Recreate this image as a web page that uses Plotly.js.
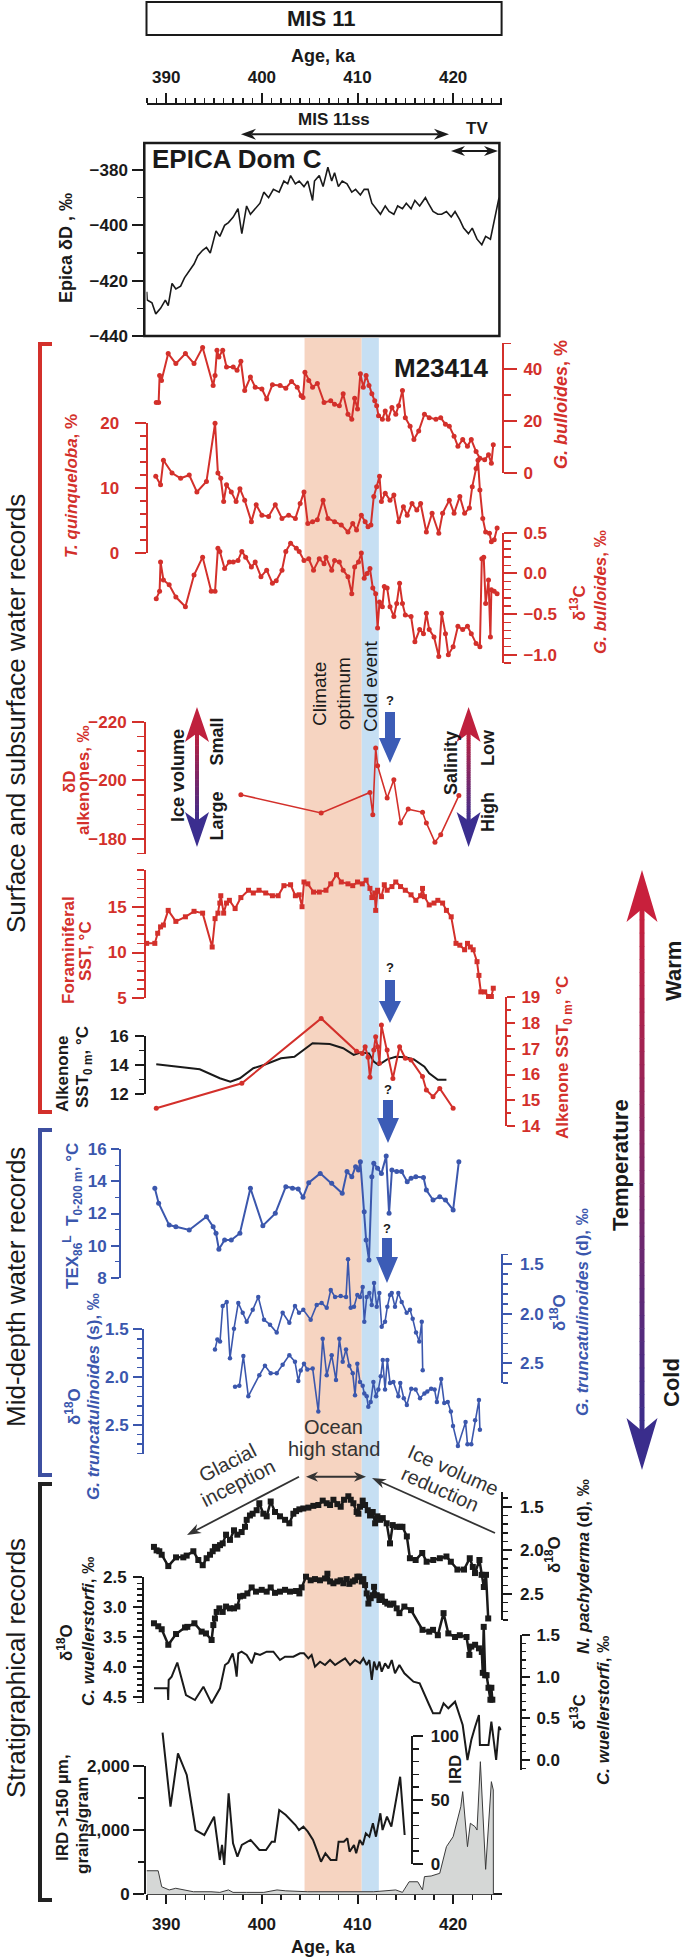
<!DOCTYPE html>
<html><head><meta charset="utf-8">
<script src="https://cdn.plot.ly/plotly-3.0.1.min.js"></script>
<style>html,body{margin:0;padding:0;background:#fff}#chart{width:685px;height:1959px}</style>
</head><body><div id="chart"></div>
<script>
// ---------------- DATA (age in ka) ----------------
const xTickVals = [390, 400, 410, 420];

const epicaAge = [387.95,388.0,388.5,388.9,389.4,389.9,390.2,390.6,391.0,391.5,391.9,392.5,392.9,393.3,393.8,394.2,394.6,395.2,395.6,396.1,396.5,397.0,397.5,397.9,398.4,398.8,399.3,399.8,400.2,400.7,401.2,401.8,402.3,402.7,403.0,403.5,403.9,404.4,404.8,405.3,405.5,406.0,406.4,406.9,407.3,407.6,408.0,408.4,408.9,409.4,409.8,410.3,410.7,411.1,411.5,412.0,412.4,412.9,413.3,413.8,414.2,414.7,415.1,415.6,416.0,416.5,417.1,417.4,417.9,418.4,418.8,419.3,419.8,420.2,420.7,421.1,421.6,422.0,422.5,423.0,423.4,423.9,424.4,424.8];
const epicaDD = [-424,-427,-428,-432,-430,-427,-429,-421,-423,-422,-419,-416,-414,-411,-409,-408,-410,-402,-404,-400,-399,-397,-394,-403,-393,-396,-394,-392,-388,-390,-387,-388,-384,-385,-382,-385,-384,-386,-384,-391,-384,-382,-386,-379,-384,-381,-386,-384,-385,-388,-387,-389,-387,-387,-392,-394,-396,-393,-395,-396,-393,-394,-392,-394,-391,-393,-390,-392,-395,-396,-396,-395,-397,-395,-398,-401,-403,-401,-405,-407,-404,-405,-397,-390];

const bullAge = [388.95,389.2,389.3,389.5,390.2,391.0,392.0,392.9,393.8,394.9,395.1,395.3,395.5,395.9,396.3,397.0,397.4,397.8,398.2,398.8,399.3,400.0,400.5,401.1,401.9,402.5,403.1,403.7,404.1,404.3,404.5,404.9,405.3,405.8,406.5,407.2,407.6,408.1,408.5,409.0,409.4,409.7,410.0,410.3,410.6,410.9,411.2,411.5,411.8,412.0,412.2,412.6,412.9,413.2,413.6,414.0,414.3,414.7,415.0,415.5,415.9,416.4,417.0,417.5,418.2,418.7,419.2,419.6,420.1,420.5,421.0,421.5,421.9,422.4,422.8,423.3,423.7,424.0,424.2];
const bullPct = [27.2,27.2,37.6,35.7,46.1,42.2,46.1,42.2,48.4,33.7,37.6,47.4,44.8,47.4,40.9,40.9,39.6,43.1,31.8,37.0,33.1,32.4,28.5,34.0,33.7,32.7,35.3,33.1,29.8,29.1,38.9,35.7,33.1,34.5,27.2,27.8,26.5,25.9,30.5,22.6,20.7,28.8,24.6,38.3,33.1,37.6,33.7,30.5,27.8,25.9,22.0,20.7,23.9,20.7,25.2,22.6,25.9,31.8,21.3,18.0,12.8,16.1,22.6,21.3,20.7,21.3,18.7,18.0,14.1,10.2,12.8,10.2,12.8,8.2,5.6,5.0,6.9,3.7,10.8];

const quinqAge = [388.9,389.4,389.7,390.6,391.5,392.4,393.2,394.2,395.1,395.4,395.7,396.0,396.3,396.8,397.3,397.7,398.2,398.9,399.4,400.0,400.7,401.4,402.1,402.8,403.5,404.0,404.4,404.8,405.3,405.8,406.4,406.9,407.6,408.3,409.0,409.5,409.9,410.4,410.8,411.1,411.4,411.7,412.0,412.3,412.5,412.9,413.4,413.8,414.3,414.8,415.2,415.7,416.2,416.6,417.2,417.8,418.5,418.9,419.6,420.1,420.7,421.2,421.7,422.0,422.4,422.6,422.8,423.1,423.4,423.8,424.0,424.3,424.6];
const quinqPct = [11.8,10.5,14.3,12.3,11.5,12.0,9.4,11.0,20.0,12.3,11.5,7.9,10.5,9.4,7.9,9.9,8.1,4.8,7.4,5.8,5.6,7.4,5.3,5.8,5.3,7.6,9.4,4.5,4.8,5.1,8.1,5.3,4.8,4.3,3.2,4.5,3.5,5.8,4.8,4.0,4.3,8.7,10.2,11.8,7.9,9.2,8.1,8.9,4.8,7.1,5.8,7.6,6.6,7.6,3.2,6.1,3.0,6.1,8.1,6.1,8.7,6.1,6.9,10.2,13.0,14.3,9.7,5.3,3.2,3.0,1.7,2.0,3.8];

const d13cBullAge = [388.95,389.3,389.4,389.7,390.3,391.0,392.0,392.9,393.8,394.7,395.1,395.4,395.6,396.1,396.6,397.0,397.5,397.9,398.3,398.9,399.3,399.9,400.5,401.1,401.5,402.1,402.5,403.0,403.6,403.9,404.4,404.9,405.4,406.0,406.5,406.7,407.3,407.6,408.1,408.5,409.0,409.4,409.7,410.1,410.4,410.7,411.0,411.3,411.6,411.9,412.1,412.3,412.6,412.8,413.1,413.4,413.8,414.1,414.4,414.7,415.0,415.6,416.0,416.5,416.9,417.2,417.5,418.0,418.5,418.8,419.2,419.5,420.0,420.5,421.0,421.5,421.9,422.4,422.8,423.0,423.2,423.4,423.7,423.9,424.0,424.3,424.6];
const d13cBull = [-0.31,-0.22,0.14,-0.08,-0.14,-0.29,-0.41,-0.02,0.20,-0.22,-0.22,0.31,0.27,0.06,0.14,0.14,0.16,0.27,0.20,0.08,0.14,-0.04,0.04,-0.12,-0.09,0.04,0.27,0.37,0.31,0.27,0.16,0.18,0.04,0.18,0.12,0.20,0.04,0.16,0.14,0.04,-0.04,-0.25,0.08,0.14,0.25,-0.06,0.00,0.06,-0.18,-0.25,-0.67,-0.35,-0.41,-0.16,-0.18,-0.41,-0.53,-0.37,-0.12,-0.37,-0.51,-0.53,-0.84,-0.69,-0.74,-0.49,-0.69,-0.78,-1.02,-0.49,-0.74,-1.0,-0.90,-0.65,-0.69,-0.65,-0.74,-0.86,-0.90,0.18,0.20,-0.37,-0.08,-0.78,-0.20,-0.22,-0.25];

const dDalkAge = [397.8,406.2,411.3,411.6,411.9,412.1,413.1,413.8,414.5,415.3,416.8,417.2,418.1,418.7,420.6];
const dDalk = [-195.1,-188.9,-195.9,-188.3,-211.0,-205.0,-194.0,-200.2,-185.5,-190.2,-189.1,-185.5,-178.9,-181.5,-194.8];

const forSSTAge = [387.95,388.8,389.1,389.4,389.7,390.2,391.0,392.0,392.9,393.8,394.8,395.1,395.4,395.6,395.7,396.0,396.3,396.6,397.2,397.8,398.6,399.1,399.7,400.4,401.1,401.7,402.3,403.0,403.5,403.9,404.2,404.4,404.8,405.4,406.0,406.7,407.2,407.8,408.3,409.0,409.5,410.0,410.5,410.9,411.3,411.5,411.8,411.9,412.1,412.5,412.8,413.1,413.6,414.0,414.5,415.0,415.6,416.1,416.6,416.8,417.0,417.5,418.0,418.4,418.9,419.3,419.8,420.3,420.7,421.2,421.5,421.8,422.1,422.5,422.7,422.9,423.3,423.7,424.0,424.2];
const forSST = [11.0,11.0,12.1,12.8,13.0,14.6,13.4,13.9,14.5,14.3,10.6,13.7,14.3,15.4,16.2,14.3,15.4,15.7,14.8,16.0,16.8,16.5,16.8,16.5,16.2,16.2,17.3,17.4,16.2,16.3,15.0,17.7,17.5,16.6,16.6,16.8,17.5,18.5,17.7,17.5,17.3,17.7,17.5,17.9,17.0,16.0,16.5,14.6,16.8,16.1,17.4,16.8,17.2,17.7,17.2,16.8,16.3,15.7,16.2,17.0,16.1,15.2,15.4,15.7,15.4,14.6,13.9,11.0,10.8,10.3,11.0,10.6,10.3,9.0,7.5,5.7,5.7,5.2,5.2,6.1];

const alkSSTAge = [388.95,397.9,406.2,409.9,410.5,410.8,411.1,411.3,411.7,411.9,412.1,412.3,412.5,413.1,413.7,414.4,415.0,415.6,416.8,417.2,417.9,418.6,420.0];
const alkSST = [14.69,15.66,18.18,16.9,16.82,17.08,16.67,15.89,16.95,17.47,17.08,16.44,17.92,16.95,15.85,17.08,16.63,16.56,15.92,15.40,15.14,15.46,14.69];

const alkSSTbAge = [388.95,393.5,395.6,396.7,397.7,399.1,400.2,402.0,403.4,405.3,407.1,408.5,409.6,410.3,411.2,411.7,412.2,413.1,414.0,415.0,415.9,417.0,417.5,418.4,419.3];
const alkSSTb = [14.04,13.70,13.08,12.85,13.08,13.77,13.99,14.45,14.56,15.48,15.43,15.14,14.68,14.84,14.79,14.22,13.99,14.38,14.56,14.52,14.38,13.88,13.42,12.97,12.97];

const texAge = [388.8,389.2,390.3,391.0,392.4,394.2,394.9,395.2,395.5,396.1,396.8,397.7,398.8,400.1,401.4,402.5,403.2,403.8,404.3,404.9,406.1,407.3,408.4,408.9,409.4,409.8,410.1,410.3,410.7,410.9,411.2,411.5,411.7,412.1,412.5,413.0,413.3,413.6,414.1,414.6,415.2,415.6,416.1,416.9,417.2,417.9,418.6,419.2,420.0,420.6];
const tex = [13.57,12.64,11.28,11.18,10.97,11.80,11.18,10.77,9.77,10.35,10.35,10.77,13.57,11.24,12.01,13.67,13.57,13.53,13.01,13.92,14.50,13.88,13.26,14.61,14.29,14.92,14.71,15.23,12.11,10.35,9.10,14.29,15.13,14.82,14.50,15.58,12.01,14.71,14.61,14.61,13.98,14.19,14.29,14.25,13.46,12.84,13.05,12.84,12.22,15.23];

const truncDAge = [395.09,395.34,395.62,395.90,396.32,396.66,397.08,397.53,397.99,398.41,399.04,399.62,400.22,400.85,401.55,402.17,402.87,403.46,403.88,404.33,405.10,405.73,406.25,406.78,407.20,407.65,408.24,408.80,409.01,409.29,409.63,409.98,410.26,410.54,410.71,410.96,411.24,411.49,411.73,412.01,412.28,412.53,412.88,413.12,413.40,413.58,413.92,414.27,414.62,415.14,415.49,415.77,416.12,416.46,416.72,416.82];
const truncD = [2.36,2.26,2.28,1.92,1.88,2.45,2.15,1.89,1.99,2.08,1.96,1.83,2.06,2.11,2.19,1.99,2.09,1.92,1.99,1.96,2.06,1.91,1.89,1.94,1.76,1.83,1.82,1.83,1.45,1.94,1.93,1.81,1.83,1.73,2.08,1.83,1.79,1.91,1.69,1.93,1.79,2.13,2.08,1.93,1.81,1.79,1.93,1.79,1.88,1.99,1.96,2.05,2.19,2.28,2.08,2.57];

const truncSAge = [397.19,397.64,398.06,398.58,399.73,400.32,400.92,401.55,402.17,402.87,403.46,403.81,404.06,404.40,404.75,405.31,405.90,406.36,406.78,407.30,407.75,408.10,408.45,408.80,409.14,409.50,409.74,409.98,410.26,410.54,410.71,410.96,411.13,411.38,411.66,411.94,412.18,412.43,412.64,412.88,413.12,413.40,413.75,414.27,414.47,414.84,415.16,415.62,416.08,416.54,417.0,417.3,417.7,418.06,418.3,418.75,419.07,419.44,419.76,419.99,420.5,421.3,421.5,421.9,422.3,422.7,422.8];
const truncS = [2.10,2.09,1.78,2.20,1.98,1.88,1.96,1.96,1.87,1.77,1.84,2.04,1.93,1.86,1.92,1.91,2.36,1.60,1.98,1.77,2.03,1.60,1.84,1.71,1.88,1.96,2.19,1.86,2.05,2.09,2.17,2.20,2.31,2.26,2.05,2.20,2.13,1.99,1.82,2.13,1.82,2.06,2.05,2.20,2.06,2.22,2.29,2.12,2.13,2.22,2.17,2.15,2.12,2.13,2.26,2.02,2.27,2.26,2.36,2.51,2.72,2.47,2.70,2.70,2.45,2.24,2.55];

const pachyAge = [388.71,388.99,389.27,389.52,390.21,391.02,391.78,392.13,392.83,393.35,393.81,394.22,394.57,394.85,395.09,395.34,395.62,395.90,396.25,396.66,397.08,397.43,397.88,398.23,398.41,398.75,399.03,399.45,399.73,400.15,400.50,400.92,401.37,401.89,402.42,402.87,403.29,403.57,403.92,404.33,404.86,405.38,405.90,406.36,406.78,407.13,407.48,407.89,408.24,408.59,409.04,409.29,409.57,409.91,410.09,410.26,410.54,410.79,411.07,411.31,411.59,411.84,412.08,412.36,412.64,413.05,413.40,413.68,414.10,414.45,414.7,415.16,415.48,416.08,416.77,417.23,417.92,418.61,419.30,419.76,420.45,421.14,421.74,422.06,422.29,422.75,422.98,423.21,423.44,423.67];
const pachy = [1.96,2.00,2.01,2.05,2.18,2.08,2.08,2.06,2.01,2.11,2.17,2.09,2.05,2.01,1.96,1.98,1.94,1.92,1.82,1.88,1.77,1.82,1.79,1.73,1.65,1.60,1.58,1.54,1.46,1.58,1.61,1.44,1.56,1.61,1.65,1.69,1.58,1.55,1.53,1.52,1.51,1.49,1.48,1.43,1.46,1.48,1.42,1.47,1.50,1.42,1.38,1.42,1.46,1.56,1.58,1.50,1.43,1.48,1.54,1.60,1.56,1.69,1.61,1.65,1.63,1.69,1.92,1.71,1.73,1.73,1.73,1.84,2.09,2.11,2.03,2.13,2.11,2.09,2.07,2.13,2.22,2.22,2.09,2.19,2.26,2.11,2.28,2.42,2.28,2.78];

const wuelO18Age = [388.71,389.16,389.52,390.21,391.02,391.96,392.2,392.94,393.7,394.15,394.74,394.92,395.09,395.27,395.55,395.90,396.25,396.66,397.08,397.43,397.71,398.06,398.48,398.93,399.38,399.98,400.50,400.92,401.37,401.89,402.42,402.94,403.57,403.92,404.16,404.61,405.10,405.55,406.08,406.60,406.85,407.13,407.48,407.89,408.24,408.52,408.87,409.15,409.50,409.74,409.98,410.19,410.44,410.61,410.79,410.96,411.14,411.38,411.59,411.73,412.01,412.29,412.53,412.88,413.12,413.40,413.75,414.10,414.38,414.9,415.6,416.8,417.5,417.9,418.4,419.0,419.5,420.2,420.7,421.4,421.7,421.9,422.3,422.7,423.0,423.1,423.2,423.35,423.5,423.7,423.9,424.0,424.1];
const wuelO18 = [3.27,3.32,3.37,3.63,3.45,3.34,3.33,3.27,3.41,3.44,3.55,3.30,3.19,3.08,3.02,3.08,2.99,3.02,3.02,2.99,2.82,2.81,2.77,2.67,2.74,2.71,2.74,2.67,2.76,2.74,2.71,2.74,2.73,2.77,2.67,2.49,2.55,2.53,2.55,2.52,2.44,2.57,2.60,2.57,2.55,2.60,2.53,2.61,2.57,2.55,2.49,2.49,2.57,2.53,2.63,2.77,2.94,2.85,2.80,2.66,2.80,2.88,2.82,2.91,2.94,2.96,2.94,3.02,3.10,2.99,3.05,3.38,3.41,3.38,3.47,3.10,3.44,3.50,3.47,3.50,3.80,3.66,3.63,3.69,3.75,4.10,3.33,4.14,4.14,4.35,4.55,4.35,4.55];

const wuelC13Age = [388.71,389.86,390.15,390.2,390.25,390.56,391.15,392.06,393.0,393.88,394.74,395.62,396.14,396.49,396.94,397.19,397.36,397.53,397.88,398.41,398.93,399.28,399.80,400.50,401.20,401.89,402.42,403.29,403.99,404.40,404.86,405.20,405.55,406.08,406.60,407.13,407.65,408.17,408.70,409.22,409.74,410.26,410.61,410.96,411.24,411.49,411.73,412.01,412.29,412.53,412.88,413.23,413.58,413.92,414.38,414.9,415.85,416.5,417.0,417.5,417.9,418.6,419.0,419.5,420.2,420.5,421.0,421.5,421.9,422.3,422.7,422.8,423.7,424.0,424.5,424.8,425.0];
const wuelC13 = [0.86,0.86,0.86,0.72,0.96,1.00,1.17,0.78,0.72,0.88,0.68,0.86,1.14,1.17,1.28,1.14,1.00,1.28,1.30,1.26,1.16,1.28,1.26,1.30,1.30,1.20,1.24,1.24,1.28,1.28,1.22,1.26,1.12,1.18,1.14,1.20,1.14,1.18,1.22,1.14,1.20,1.16,1.22,1.14,1.20,0.96,1.18,1.08,1.18,1.06,1.16,1.10,1.20,1.04,1.14,1.04,0.94,0.92,0.80,0.66,0.56,0.56,0.68,0.62,0.70,0.60,0.42,0.0,0.24,0.40,0.54,0.18,0.18,0.46,0.0,0.40,0.36];

const irdAge = [389.61,390.44,391.22,392.14,393.06,393.98,395.0,395.37,395.6,395.83,396.06,396.52,396.98,397.44,397.9,398.82,399.74,400.43,401.03,401.35,401.81,402.5,403.19,403.51,403.88,404.34,404.8,405.35,405.81,406.18,406.64,407.19,407.79,408.02,408.57,408.94,409.17,409.63,409.86,410.23,410.55,410.87,411.24,411.61,411.93,412.39,412.62,413.08,413.54,414.0,414.46,414.93];
const ird = [2519,1366,2198,1860,1002,924,1210,820,535,769,457,1575,795,586,769,847,691,691,820,820,1314,1236,1132,1080,1002,1054,976,847,664,508,639,535,535,820,820,873,664,769,639,847,769,951,898,1107,898,1263,1002,1210,1054,1470,1833,924];

const irdPctAge = [387.93,389.15,389.52,390.3,390.99,391.91,392.83,394.67,395.6,396.5,396.98,398.36,400.2,401.58,402.5,404.8,407.1,409.4,411.7,414.0,414.7,415.4,416.3,416.8,417.0,417.7,418.15,418.6,419.3,420.0,420.8,421.0,421.5,421.8,422.3,422.5,422.85,423.4,424.0,424.2,424.21];
const irdPct = [18.4,18.4,5.9,3.4,4.7,3.4,2.0,2.0,1.5,3.4,1.5,1.5,1.5,3.4,2.7,2.0,2.0,1.5,2.0,3.4,1.5,9.8,9.8,3.4,13.8,14.3,15.1,16.4,37.2,45.0,68.4,80.2,37.2,55.5,52.8,50.2,103.6,19.5,88.0,81.5,0];

// ---------------- STYLE / LAYOUT ----------------
const W = 685, H = 1959;
const FONT = 'Liberation Sans, Arial, Helvetica, sans-serif';
const RED = '#d3302b', BLUE = '#3b57ad', BLK = '#1a1a1a';
const X = px => px / W, Y = py => 1 - py / H;
const XR = [387.93, 425.07];

const panels = [
 {range:[-440,-370.24], px:[336,143], pos:144.3, side:'left', color:BLK, dtick:20, tick0:-440, minor:10, so:1, tl:11},
 {range:[0,50], px:[472.7,343.45], pos:503, side:'right', color:RED, dtick:20, tick0:0, minor:10, so:3, tl:13},
 {range:[0,20], px:[552.7,423.3], pos:146.5, side:'left', color:RED, dtick:10, tick0:0, minor:2, so:12, tl:11},
 {range:[-1.1,0.5], px:[663,532.7], pos:503, side:'right', color:RED, dtick:0.5, tick0:0, minor:0.1, fmt:'.1f', so:3, tl:13},
 {range:[-175,-220], px:[853.7,721.7], pos:145, side:'left', color:RED, dtick:20, tick0:-220, minor:5, so:2, tl:12},
 {range:[5,19], px:[998.3,870.1], pos:145, side:'left', color:RED, dtick:5, tick0:5, minor:1, so:2, tl:12},
 {range:[12,16], px:[1094,1035.7], pos:145, side:'left', color:BLK, dtick:2, tick0:12, minor:1, so:3, tl:9},
 {range:[14,19], px:[1126,997.3], pos:506, side:'right', color:RED, dtick:1, tick0:14, minor:0.5, so:3, tl:8},
 {range:[8,16], px:[1277.7,1149.3], pos:120, side:'left', color:BLUE, dtick:2, tick0:8, minor:1, so:1, tl:8},
 {range:[2.7,1.4], px:[1383.1,1254.4], pos:501.6, side:'right', color:BLUE, dtick:0.5, tick0:1.5, minor:0.1, fmt:'.1f', so:5, tl:9},
 {range:[2.8,1.5], px:[1453.7,1329.3], pos:143, side:'left', color:BLUE, dtick:0.5, tick0:1.5, minor:0.1, fmt:'.1f', so:1, tl:9},
 {range:[2.8,1.33], px:[1620.2,1491.9], pos:501.6, side:'right', color:BLK, dtick:0.5, tick0:1.5, minor:0.1, fmt:'.1f', so:5, tl:9},
 {range:[4.6,2.5], px:[1702.7,1577.3], pos:143, side:'left', color:BLK, dtick:0.5, tick0:2.5, minor:0.1, fmt:'.1f', so:3, tl:9},
 {range:[-0.12,1.5], px:[1770,1635], pos:521, side:'right', color:BLK, dtick:0.5, tick0:0, minor:0.1, fmt:'.1f', so:3, tl:8},
 {range:[0,2000], px:[1894.3,1766], pos:145, side:'left', color:BLK, dtick:1000, tick0:0, minor:500, fmt:',d', so:0, tl:11},
 {range:[0,100], px:[1864,1736], pos:412.3, side:'right', color:BLK, dtick:50, tick0:0, minor:10, so:4, tl:10}
];
const grayMap = {range:[0,100], px:[1894.3,1766.3]};
const N = panels.length;

function dataRange(p){
  const [r0,r1] = p.range, [p0,p1] = p.px;
  const f = py => r0 + (r1 - r0) * (p0 - py) / (p0 - p1);
  return [f(H), f(0)];
}

const layout = {
  width: W, height: H, margin:{l:0,r:0,t:0,b:0,pad:0},
  paper_bgcolor:'#fff', plot_bgcolor:'rgba(0,0,0,0)', showlegend:false,
  font:{family:FONT, color:BLK},
  xaxis:{domain:[X(146.5), X(501.6)], range:XR, autorange:false, anchor:'free', position:Y(1894.3),
    showline:true, linewidth:2, linecolor:BLK, ticks:'outside', ticklen:9, tickwidth:2, tickcolor:BLK,
    tickvals:xTickVals, minor:{dtick:2, tick0:390, ticklen:5, tickwidth:1.5, tickcolor:BLK, ticks:'outside'},
    tickfont:{family:FONT, size:17, color:BLK, weight:'bold'}, ticklabelstandoff:5,
    showgrid:false, zeroline:false, fixedrange:true},
  xaxis2:{overlaying:'x', side:'top', range:XR, autorange:false, anchor:'free', position:Y(104),
    showline:true, linewidth:2, linecolor:BLK, ticks:'outside', ticklen:10, tickwidth:2, tickcolor:BLK,
    tickvals:xTickVals, minor:{dtick:1, tick0:390, ticklen:5, tickwidth:1.5, tickcolor:BLK, ticks:'outside'},
    tickfont:{family:FONT, size:17, color:BLK, weight:'bold'}, ticklabelstandoff:3,
    showgrid:false, zeroline:false, fixedrange:true}
};

const traces = [];
panels.forEach((p,i) => {
  const id = i + 1, name = 'yaxis' + (id === 1 ? '' : id);
  layout[name] = {domain:[Y(p.px[0]), Y(p.px[1])], range:p.range, autorange:false, anchor:'free',
    position:X(p.pos), side:p.side, showline:true, linecolor:p.color, linewidth:2,
    ticks:'outside', ticklen:p.tl, tickwidth:2, tickcolor:p.color, dtick:p.dtick, tick0:p.tick0,
    tickformat:p.fmt || '', minor:{dtick:p.minor, ticklen:Math.round(p.tl*0.55), tickwidth:1.5, tickcolor:p.color, ticks:'outside'},
    tickfont:{family:FONT, size:17, color:p.color, weight:'bold'}, ticklabelstandoff:p.so,
    showgrid:false, zeroline:false, fixedrange:true};
  const did = N + id;
  layout['yaxis' + did] = {domain:[0,1], range:dataRange(p), autorange:false, visible:false, anchor:'x', fixedrange:true, showgrid:false, zeroline:false};
  traces.push({type:'scatter', x:[null], y:[null], xaxis:'x', yaxis:'y' + (id === 1 ? '' : id), hoverinfo:'skip', showlegend:false});
});
const grayAx = 2 * N + 1;
layout['yaxis' + grayAx] = {domain:[0,1], range:dataRange(grayMap), autorange:false, visible:false, anchor:'x', fixedrange:true, showgrid:false, zeroline:false};
traces.push({type:'scatter', x:[null], y:[null], xaxis:'x2', yaxis:'y', hoverinfo:'skip', showlegend:false});

traces.push({type:'scatter', mode:'lines', x:irdPctAge, y:irdPct, xaxis:'x', yaxis:'y' + grayAx, fill:'tozeroy',
  fillcolor:'#d5d7d6', line:{color:'#3a3a3a', width:1}, hoverinfo:'skip', showlegend:false});

function S(xs, ys, pi, color, w, mk, sym){
  traces.push({type:'scatter', mode: mk ? 'lines+markers' : 'lines', x:xs, y:ys, xaxis:'x', yaxis:'y' + (N + pi + 1),
    line:{color, width:w}, marker:{size:mk || 0, color, symbol:sym || 'circle'}, hoverinfo:'skip', showlegend:false, cliponaxis:false});
}
S(epicaAge, epicaDD, 0, BLK, 1.6, 0);
S(bullAge, bullPct, 1, RED, 2, 5);
S(quinqAge, quinqPct, 2, RED, 2, 5);
S(d13cBullAge, d13cBull, 3, RED, 2, 5);
S(dDalkAge, dDalk, 4, RED, 1.6, 5);
S(forSSTAge, forSST, 5, RED, 2, 5, 'square');
S(alkSSTbAge, alkSSTb, 6, BLK, 2, 0);
S(alkSSTAge, alkSST, 7, RED, 2, 5);
S(texAge, tex, 8, BLUE, 2, 5);
S(truncDAge, truncD, 9, BLUE, 1.6, 4.5);
S(truncSAge, truncS, 10, BLUE, 1.6, 4.5);
S(pachyAge, pachy, 11, BLK, 2.5, 6, 'square');
S(wuelO18Age, wuelO18, 12, BLK, 2.5, 6, 'square');
S(wuelC13Age, wuelC13, 13, BLK, 2, 0);
S(irdAge, ird, 14, BLK, 2, 0);

// ---------------- SHAPES ----------------
const shapes = [];
shapes.push({type:'rect', xref:'x', yref:'paper', x0:404.46, x1:410.44, y0:Y(1894.3), y1:Y(338), fillcolor:'#f6d4c1', line:{width:0}, layer:'below'});
shapes.push({type:'rect', xref:'x', yref:'paper', x0:410.44, x1:412.23, y0:Y(1894.3), y1:Y(338), fillcolor:'#c6dff3', line:{width:0}, layer:'below'});
shapes.push({type:'rect', xref:'paper', yref:'paper', x0:X(146.5), x1:X(501.6), y0:Y(35), y1:Y(2), line:{color:BLK, width:2}});
shapes.push({type:'rect', xref:'paper', yref:'paper', x0:X(144.3), x1:X(499.4), y0:Y(336), y1:Y(143), line:{color:BLK, width:2.5}});

function pth(pts, closed){ return pts.map((p,i)=>(i?'L':'M')+X(p[0]).toFixed(5)+','+Y(p[1]).toFixed(5)).join(' ') + (closed?' Z':''); }
function bracket(y0, y1, color){
  shapes.push({type:'path', xref:'paper', yref:'paper', path:pth([[52,y0],[40,y0],[40,y1],[52,y1]], false), fillcolor:'rgba(0,0,0,0)', line:{color, width:4}});
}
bracket(344, 1112, RED);
bracket(1130, 1475, '#3d4fa0');
bracket(1484, 1900, '#222');

function hex(c){ return [1,3,5].map(i=>parseInt(c.substr(i,2),16)); }
function mix(a,b,t){ const A=hex(a), B=hex(b); return 'rgb('+A.map((v,i)=>Math.round(v+(B[i]-v)*t)).join(',')+')'; }
function gradArrow(x, yTop, yBot, hl, hw, sw, c1, c2){
  const n = 40, s0 = yTop + hl*0.7, s1 = yBot - hl*0.7;
  for (let i = 0; i < n; i++){
    const a = s0 + (s1 - s0) * i / n, b = s0 + (s1 - s0) * (i + 1) / n + 0.6;
    shapes.push({type:'line', xref:'paper', yref:'paper', x0:X(x), x1:X(x), y0:Y(a), y1:Y(b), line:{color:mix(c1,c2,(i+0.5)/n), width:sw}});
  }
  shapes.push({type:'path', xref:'paper', yref:'paper', path:pth([[x,yTop],[x-hw/2,yTop+hl],[x,yTop+hl*0.75],[x+hw/2,yTop+hl]], true), fillcolor:c1, line:{width:0}});
  shapes.push({type:'path', xref:'paper', yref:'paper', path:pth([[x,yBot],[x-hw/2,yBot-hl],[x,yBot-hl*0.75],[x+hw/2,yBot-hl]], true), fillcolor:c2, line:{width:0}});
}
gradArrow(197, 707, 847, 35, 24, 4, '#bf203d', '#3b2e8f');
gradArrow(468.6, 707, 847, 35, 24, 4, '#bf203d', '#3b2e8f');
gradArrow(642, 870, 1470, 52, 31, 5, '#c8203c', '#3a2d8c');

// thin arrows drawn as shapes: tail (x1,y1) -> head (x2,y2)
function arrow(x1, y1, x2, y2, o){
  o = o || {};
  const color = o.color || BLK, w = o.w || 1.8, hl = o.hl || 12, hw = o.hw || 9;
  const dx = x2 - x1, dy = y2 - y1, L = Math.hypot(dx, dy), ux = dx / L, uy = dy / L, nx = -uy, ny = ux;
  const head = (hx, hy, sx, sy) => {
    const bx = hx - sx * hl, by = hy - sy * hl, cx = hx - sx * hl * 0.7, cy = hy - sy * hl * 0.7;
    shapes.push({type:'path', xref:'paper', yref:'paper', path:pth([[hx,hy],[bx + nx*hw/2, by + ny*hw/2],[cx,cy],[bx - nx*hw/2, by - ny*hw/2]], true), fillcolor:color, line:{width:0}});
  };
  const sx0 = o.both ? x1 + ux * hl * 0.7 : x1, sy0 = o.both ? y1 + uy * hl * 0.7 : y1;
  shapes.push({type:'line', xref:'paper', yref:'paper', x0:X(sx0), y0:Y(sy0), x1:X(x2 - ux*hl*0.7), y1:Y(y2 - uy*hl*0.7), line:{color, width:w}});
  head(x2, y2, ux, uy);
  if (o.both) head(x1, y1, -ux, -uy);
}

const ann = [];
function T(text, px, py, o){
  o = o || {};
  ann.push({xref:'paper', yref:'paper', x:X(px), y:Y(py), text:text, showarrow:false,
    xanchor:o.xa || 'center', yanchor:'middle', textangle:o.angle || 0,
    font:{family:FONT, size:o.size || 17, color:o.color || BLK, weight:o.normal ? 'normal' : 'bold'}});
}
function blueArrow(x, yq, y0, yh, yt){
  T('?', x, yq, {size:13});
  shapes.push({type:'path', xref:'paper', yref:'paper', path:pth([[x-5,y0],[x+5,y0],[x+5,yh],[x+11,yh],[x,yt],[x-11,yh],[x-5,yh]], true), fillcolor:'#3c5cb6', line:{width:0}});
}
blueArrow(390, 700, 712, 738, 763);
blueArrow(390, 968, 980, 1001, 1023);
blueArrow(388, 1089, 1100, 1118, 1143);
blueArrow(387, 1228, 1238, 1257, 1283);

// header
T('MIS 11', 321, 18.5, {size:22});
T('Age, ka', 323, 56, {size:18});
T('MIS 11ss', 334, 120, {size:17});
arrow(241, 134.3, 449, 134.3, {both:true, w:2, hl:15, hw:11});
T('TV', 476.5, 128, {size:17});
arrow(451, 151, 498, 151, {both:true, w:2, hl:14, hw:10});
T('EPICA Dom C', 150, 159, {size:26, xa:'left'});
T('M23414', 441, 368, {size:26});
T('Age, ka', 323, 1947, {size:18});

// section labels
T('Surface and subsurface water records', 16, 714, {size:26, angle:-90, normal:true});
T('Mid-depth water records', 16, 1287, {size:26, angle:-90, normal:true});
T('Stratigraphical records', 16, 1668, {size:26, angle:-90, normal:true});

// left axis titles
T('Epica δD , ‰', 66, 248, {size:18, angle:-90});
T('<i>T. quinqueloba</i>, %', 71, 486, {color:RED, angle:-90});
T('δD', 70, 782, {color:RED, angle:-90});
T('alkenones, ‰', 83, 780, {color:RED, angle:-90});
T('Foraminiferal', 68, 950, {color:RED, angle:-90});
T('SST, °C', 85, 951, {color:RED, angle:-90});
T('Alkenone', 62, 1074, {angle:-90});
T('SST<sub>0 m</sub>, °C', 84, 1067, {angle:-90});
T('TEX<sub>86</sub><sup>L</sup>  T<sub>0-200 m</sub>, °C', 72, 1216, {color:BLUE, angle:-90});
T('δ<sup>18</sup>O', 73, 1407, {color:BLUE, angle:-90});
T('<i>G. truncatulinoides</i> (s), ‰', 93, 1397, {color:BLUE, angle:-90});
T('δ<sup>18</sup>O', 65, 1643, {angle:-90});
T('<i>C. wuellerstorfi</i>, ‰', 88, 1632, {angle:-90});
T('IRD >150 µm,', 62, 1808, {angle:-90});
T('grains/gram', 82, 1826, {angle:-90});

// right axis titles
T('<i>G. bulloides</i>, %', 561, 405, {color:RED, angle:-90, size:18});
T('δ<sup>13</sup>C', 578, 603, {color:RED, angle:-90});
T('<i>G. bulloides</i>, ‰', 600, 592, {color:RED, angle:-90});
T('Alkenone SST<sub>0 m</sub>, °C', 564, 1058, {color:RED, angle:-90});
T('δ<sup>18</sup>O', 558, 1313, {color:BLUE, angle:-90});
T('<i>G. truncatulinoides</i> (d), ‰', 582, 1312, {color:BLUE, angle:-90});
T('δ<sup>18</sup>O', 553, 1555, {angle:-90});
T('<i>N. pachyderma</i> (d), ‰', 583, 1567, {angle:-90});
T('δ<sup>13</sup>C', 578, 1712, {angle:-90});
T('<i>C. wuellerstorfi</i>, ‰', 603, 1711, {angle:-90});
T('IRD', 455, 1770, {angle:-90});

// temperature arrow labels
T('Warm', 673, 971, {size:22, angle:-90});
T('Temperature', 620, 1165, {size:22, angle:-90});
T('Cold', 671, 1383, {size:22, angle:-90});

// ice volume / salinity
T('Ice volume', 178, 776, {size:18, angle:-90});
T('Small', 216.5, 742, {size:18, angle:-90});
T('Large', 216.5, 816, {size:18, angle:-90});
T('Salinity', 451, 763, {size:18, angle:-90});
T('Low', 488, 748, {size:18, angle:-90});
T('High', 488, 812, {size:18, angle:-90});

// band labels
T('Climate', 319, 694, {size:19, angle:-90, normal:true});
T('optimum', 343, 694, {size:19, angle:-90, normal:true});
T('Cold event', 370, 686, {size:19, angle:-90, normal:true});
T('Ocean', 333, 1427, {size:20, normal:true, color:'#333'});
T('high stand', 334, 1449, {size:20, normal:true, color:'#333'});
arrow(306, 1476.7, 366, 1476.7, {both:true, color:'#333', w:2, hl:12, hw:10});
T('Glacial', 227, 1463, {size:20, normal:true, color:'#333', angle:-27});
T('inception', 238, 1483, {size:20, normal:true, color:'#333', angle:-27});
arrow(299, 1476.7, 187, 1535, {color:'#333', w:1.8, hl:14, hw:10});
T('Ice volume', 453, 1470, {size:20, normal:true, color:'#333', angle:24});
T('reduction', 440, 1489, {size:20, normal:true, color:'#333', angle:24});
arrow(495, 1533, 372, 1478, {color:'#333', w:1.8, hl:14, hw:10});

layout.shapes = shapes;
layout.annotations = ann;

Plotly.newPlot('chart', traces, layout, {staticPlot:true, displayModeBar:false});
</script></body></html>
